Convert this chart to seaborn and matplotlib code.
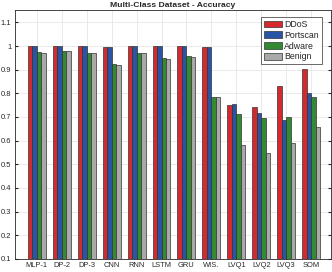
import matplotlib
matplotlib.use("Agg")
import matplotlib.pyplot as plt
import seaborn as sns
import pandas as pd

models = ["MLP-1", "DP-2", "DP-3", "CNN", "RNN", "LSTM", "GRU", "WIS.", "LVQ1", "LVQ2", "LVQ3", "SOM"]
classes = ["DDoS", "Portscan", "Adware", "Benign"]

ddos = [1.0, 1.0, 1.0, 0.994, 1.0, 1.0, 1.0, 0.996, 0.751, 0.744, 0.830, 0.903]
portscan = [1.0, 1.0, 1.0, 0.996, 1.0, 1.0, 1.0, 0.995, 0.755, 0.717, 0.687, 0.801]
adware = [0.973, 0.977, 0.972, 0.925, 0.971, 0.948, 0.956, 0.783, 0.713, 0.696, 0.699, 0.783]
benign = [0.972, 0.977, 0.971, 0.921, 0.969, 0.944, 0.954, 0.783, 0.582, 0.547, 0.589, 0.656]

colors = ["#d42a2e", "#2a55a6", "#338a33", "#a9a9a9"]

# tabela w formacie long dla seaborn
rows = []
for name, vals in zip(classes, [ddos, portscan, adware, benign]):
    for m, v in zip(models, vals):
        rows.append({"model": m, "klasa": name, "acc": v})
df = pd.DataFrame(rows)

sns.set_style("white")
plt.rcParams["font.family"] = ["Liberation Sans", "DejaVu Sans"]

fig = plt.figure(figsize=(3.32, 2.72), dpi=100)
ax = fig.add_axes([0.045, 0.048, 0.952, 0.915])

sns.barplot(data=df, x="model", y="acc", hue="klasa", hue_order=classes,
            palette=colors, width=0.72, gap=0, edgecolor="#333333",
            linewidth=0.5, saturation=1, ax=ax, zorder=3)

ax.set_ylim(0.1, 1.152)
ax.set_xlim(-0.88, 11.8)
ax.set_yticks([0.1, 0.2, 0.3, 0.4, 0.5, 0.6, 0.7, 0.8, 0.9, 1.0, 1.1])
ax.set_yticklabels(["0.1", "0.2", "0.3", "0.4", "0.5", "0.6", "0.7", "0.8", "0.9", "1", "1.1"])
ax.grid(True, color="#e6e6e6", linewidth=0.6, zorder=0)
ax.set_axisbelow(True)
ax.tick_params(axis="both", direction="in", length=2.5, labelsize=5.4,
               pad=2.5, colors="#262626", right=True, top=False, left=True, bottom=True)
for s in ax.spines.values():
    s.set_color("#262626")
    s.set_linewidth(0.6)
ax.set_xlabel("")
ax.set_ylabel("")
ax.set_title("Multi-Class Dataset - Accuracy", fontsize=6.1, fontweight="bold", pad=2)

leg = ax.legend(loc="upper right", bbox_to_anchor=(0.972, 0.972), fontsize=6.3,
                frameon=True, fancybox=False, edgecolor="#262626",
                handlelength=2.1, handleheight=0.8, handletextpad=0.25,
                labelspacing=0.2, borderpad=0.35, borderaxespad=0.0)
leg.get_frame().set_linewidth(0.6)

fig.savefig("out.png", dpi=100)
